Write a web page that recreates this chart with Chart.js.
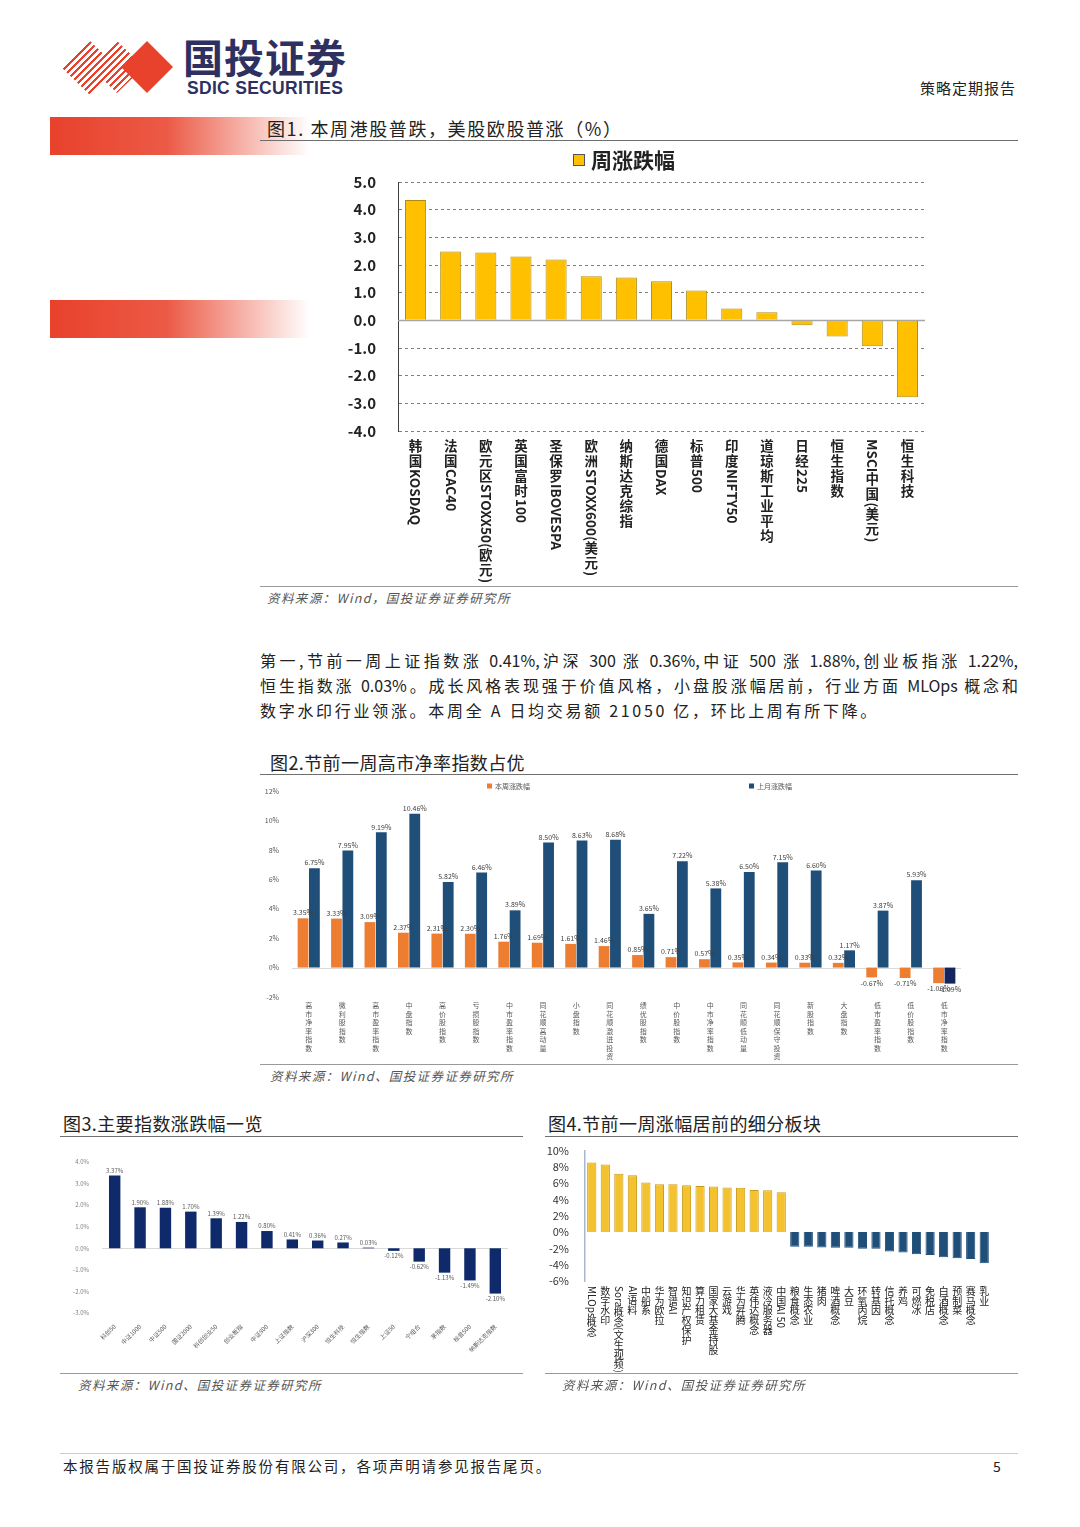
<!DOCTYPE html>
<html>
<head>
<meta charset="utf-8">
<script src="https://cdn.jsdelivr.net/npm/chart.js@4.4.1/dist/chart.umd.min.js"></script>
<style>
  body { margin: 0; width: 1080px; height: 1527px; position: relative; background: #fff; overflow: hidden;
         font-family: "Noto Sans CJK SC", "Noto Sans", sans-serif; color: #222; }
  .abs { position: absolute; }
  .rule { position: absolute; height: 1px; background: #6f6f6f; }
  .fig-title { position: absolute; font-size: 18px; line-height: 22px; letter-spacing: 0.4px; color: #222; white-space: nowrap; }
  .source { position: absolute; font-size: 12.5px; font-style: italic; letter-spacing: 1.4px; color: #555; white-space: nowrap; }
  .para { position: absolute; left: 260px; width: 758px; font-size: 16px; line-height: 25px; color: #222; }
  .para.full { text-align: justify; text-align-last: justify; }
  .redbar { position: absolute; left: 50px; width: 260px; height: 38px;
            background: linear-gradient(to right, #E8412C 0%, #EC5A46 45%, rgba(255,255,255,0) 100%); }
  canvas { position: absolute; }
</style>
</head>
<body>

<!-- header -->
<div class="abs" style="left:62px;top:41px;width:56px;height:54px;clip-path:polygon(0 50%,50% 0,100% 50%,50% 100%);background:repeating-linear-gradient(135deg,#E8412C 0 2px,#fff 2px 5px);"></div>
<div class="abs" style="left:90px;top:41px;width:54px;height:52px;clip-path:polygon(0 50%,50% 0,100% 50%,50% 100%);background:repeating-linear-gradient(135deg,#E8412C 0 2px,#fff 2px 5px);"></div>
<div class="abs" style="left:121px;top:41px;width:52px;height:52px;clip-path:polygon(0 50%,50% 0,100% 50%,50% 100%);background:#E8412C;"></div>
<div class="abs" style="left:183px;top:33px;font-size:40px;line-height:46px;font-weight:bold;color:#2E3160;letter-spacing:1px;">国投证券</div>
<div class="abs" style="left:187px;top:79px;font-family:'Liberation Sans',sans-serif;font-size:17.5px;line-height:19px;font-weight:bold;letter-spacing:0.3px;color:#2E3160;">SDIC SECURITIES</div>
<div class="abs" style="left:920px;top:78px;font-size:15px;line-height:20px;letter-spacing:1px;color:#222;">策略定期报告</div>

<!-- figure 1 -->
<div class="redbar" style="top:117px;"></div>
<div class="redbar" style="top:300px;"></div>
<div class="fig-title" style="left:267px;top:117px;letter-spacing:1.6px;">图1. 本周港股普跌，美股欧股普涨（%）</div>
<div class="rule" style="left:260px;top:140px;width:758px;"></div>
<canvas id="weekChart" width="600" height="445" style="left:340px;top:142px;"></canvas>
<div class="rule" style="left:260px;top:586px;width:758px;background:#999;"></div>
<div class="source" style="left:267px;top:588px;">资料来源：Wind，国投证券证券研究所</div>

<!-- paragraph -->
<div class="para full" style="top:648px;">第一,节前一周上证指数涨 0.41%,沪深 300 涨 0.36%,中证 500 涨 1.88%,创业板指涨 1.22%,</div>
<div class="para full" style="top:673px;">恒生指数涨 0.03%。成长风格表现强于价值风格，小盘股涨幅居前，行业方面 MLOps 概念和</div>
<div class="para" style="top:698px;letter-spacing:2.7px;">数字水印行业领涨。本周全 A 日均交易额 21050 亿，环比上周有所下降。</div>

<!-- figure 2 -->
<div class="fig-title" style="left:270px;top:751px;">图2.节前一周高市净率指数占优</div>
<div class="rule" style="left:260px;top:774px;width:758px;"></div>
<canvas id="styleChart" width="760" height="285" style="left:260px;top:778px;"></canvas>
<div class="rule" style="left:260px;top:1064px;width:758px;background:#999;"></div>
<div class="source" style="left:270px;top:1066px;">资料来源：Wind、国投证券证券研究所</div>

<!-- figure 3 -->
<div class="fig-title" style="left:63px;top:1112px;">图3.主要指数涨跌幅一览</div>
<div class="rule" style="left:60px;top:1136px;width:463px;"></div>
<canvas id="indexChart" width="463" height="232" style="left:60px;top:1140px;"></canvas>
<div class="rule" style="left:60px;top:1373px;width:463px;background:#999;"></div>
<div class="source" style="left:78px;top:1375px;">资料来源：Wind、国投证券证券研究所</div>

<!-- figure 4 -->
<div class="fig-title" style="left:548px;top:1112px;">图4.节前一周涨幅居前的细分板块</div>
<div class="rule" style="left:545px;top:1136px;width:473px;"></div>
<canvas id="sectorChart" width="473" height="252" style="left:545px;top:1136px;"></canvas>
<div class="rule" style="left:545px;top:1373px;width:473px;background:#999;"></div>
<div class="source" style="left:562px;top:1375px;">资料来源：Wind、国投证券证券研究所</div>

<!-- footer -->
<div class="rule" style="left:60px;top:1453px;width:958px;background:#ccc;"></div>
<div class="abs" style="left:63px;top:1456px;font-size:14.5px;line-height:20px;letter-spacing:1.8px;color:#222;">本报告版权属于国投证券股份有限公司，各项声明请参见报告尾页。</div>
<div class="abs" style="left:993px;top:1456px;font-size:14px;line-height:20px;color:#222;">5</div>

<script>
// 图1 本周全球指数
const weekLabels = ["韩国KOSDAQ", "法国CAC40", "欧元区STOXX50(欧元)", "英国富时100", "圣保罗IBOVESPA",
  "欧洲STOXX600(美元)", "纳斯达克综指", "德国DAX", "标普500", "印度NIFTY50", "道琼斯工业平均",
  "日经225", "恒生指数", "MSCI中国(美元)", "恒生科技"];
const weekChange = [4.35, 2.49, 2.45, 2.31, 2.2, 1.59, 1.55, 1.41, 1.08, 0.43, 0.29, -0.18, -0.58, -0.94, -2.78];
const weekTicks = [5, 4, 3, 2, 1, 0, -1, -2, -3, -4];

// 图2 风格指数
const styleLabels = ["高市净率指数", "微利股指数", "高市盈率指数", "中盘指数", "高价股指数", "亏损股指数",
  "中市盈率指数", "同花顺高动量", "小盘指数", "同花顺激进投资", "绩优股指数", "中价股指数", "中市净率指数",
  "同花顺低动量", "同花顺保守投资", "新股指数", "大盘指数", "低市盈率指数", "低价股指数", "低市净率指数"];
const thisWeek = [3.35, 3.33, 3.09, 2.37, 2.31, 2.30, 1.76, 1.69, 1.61, 1.46, 0.85, 0.71, 0.57, 0.35, 0.34,
  0.33, 0.32, -0.67, -0.71, -1.06];
const lastMonth = [6.75, 7.95, 9.19, 10.46, 5.82, 6.46, 3.89, 8.50, 8.63, 8.68, 3.65, 7.22, 5.38, 6.50, 7.15,
  6.60, 1.17, 3.87, 5.93, -1.09];
const styleTicks = [12, 10, 8, 6, 4, 2, 0, -2];

// 图3 主要指数
const indexLabels = ["科创50", "中证1000", "中证500", "国证2000", "科创创业50", "创业板指", "中证800", "上证指数",
  "沪深300", "恒生科技", "恒生指数", "上证50", "宁组合", "茅指数", "标普500", "纳斯达克指数"];
const indexChange = [3.37, 1.90, 1.88, 1.70, 1.39, 1.22, 0.80, 0.41, 0.36, 0.27, 0.03, -0.12, -0.62, -1.13, -1.49, -2.10];
const indexTicks = [4, 3, 2, 1, 0, -1, -2, -3];

// 图4 细分板块
const sectorLabels = ["MLOps概念", "数字水印", "Sora概念(文生视频)", "AI语料", "中船系", "华为欧拉", "智谱AI",
  "知识产权保护", "算力租赁", "国家大基金持股", "云游戏", "华为昇腾", "英伟达概念", "液冷服务器", "中国AI 50",
  "粮食概念", "生态农业", "猪肉", "啤酒概念", "大豆", "环氧丙烷", "转基因", "信托概念", "养鸡", "可燃冰",
  "免税店", "白酒概念", "预制菜", "赛马概念", "乳业"];
const sectorChange = [8.54, 8.28, 7.16, 6.97, 6.09, 5.86, 5.86, 5.75, 5.67, 5.59, 5.48, 5.44, 5.17, 5.13, 4.9,
  -1.8, -1.8, -1.88, -1.92, -1.92, -2.03, -2.03, -2.37, -2.49, -2.72, -2.8, -3.1, -3.22, -3.3, -3.83];
const sectorTicks = [10, 8, 6, 4, 2, 0, -2, -4, -6];

Chart.defaults.font.family = "'Noto Sans CJK SC', 'Noto Sans', sans-serif";
Chart.defaults.animation = false;

const CJK = /[\u3000-\u9fff\uff00-\uffef]/;

// CJK chars stacked upright, latin runs turned 90deg (like vertical Word text)
function drawVertical(ctx, text, x, y, lineHeight) {
  const parts = text.match(/[\u3000-\u9fff\uff00-\uffef]|[^\u3000-\u9fff\uff00-\uffef]+/g) || [];
  parts.forEach((p) => {
    if (CJK.test(p)) {
      ctx.textAlign = "center";
      ctx.textBaseline = "top";
      ctx.fillText(p, x, y);
      y += lineHeight;
    } else {
      const w = ctx.measureText(p).width;
      ctx.save();
      ctx.translate(x, y);
      ctx.rotate(Math.PI / 2);
      ctx.textAlign = "left";
      ctx.textBaseline = "middle";
      ctx.fillText(p, 0, 0);
      ctx.restore();
      y += w;
    }
  });
}

const verticalLabels = {
  id: "verticalLabels",
  afterDraw(chart, args, opts) {
    const { ctx } = chart;
    const xScale = chart.scales.x;
    ctx.save();
    ctx.font = opts.font;
    ctx.fillStyle = opts.color;
    chart.data.labels.forEach((label, i) => {
      drawVertical(ctx, label, xScale.getPixelForValue(i), chart.chartArea.bottom + opts.offset, opts.lineHeight);
    });
    ctx.restore();
  },
};

const pinnedLegend = {
  id: "pinnedLegend",
  afterDraw(chart, args, opts) {
    const { ctx } = chart;
    ctx.save();
    ctx.font = opts.font;
    ctx.textBaseline = "middle";
    ctx.textAlign = "left";
    chart.data.datasets.forEach((ds, i) => {
      const x = opts.x[i];
      const b = opts.box;
      const fill = Array.isArray(ds.backgroundColor) ? ds.backgroundColor[0] : ds.backgroundColor;
      ctx.fillStyle = fill;
      ctx.fillRect(x, opts.y - b / 2, b, b);
      if (opts.boxBorder) {
        ctx.strokeStyle = opts.boxBorder;
        ctx.lineWidth = 1;
        ctx.strokeRect(x + 0.5, opts.y - b / 2 + 0.5, b - 1, b - 1);
      }
      ctx.fillStyle = opts.color;
      ctx.fillText(ds.label, x + b + opts.gap, opts.y);
    });
    ctx.restore();
  },
};

const zeroLine = {
  id: "zeroLine",
  beforeDatasetsDraw(chart, args, opts) {
    const { ctx, chartArea } = chart;
    const y = Math.round(chart.scales.y.getPixelForValue(0)) + 0.5;
    ctx.save();
    ctx.strokeStyle = opts.color;
    ctx.lineWidth = opts.width;
    ctx.beginPath();
    ctx.moveTo(chartArea.left, y);
    ctx.lineTo(chartArea.right, y);
    ctx.stroke();
    ctx.restore();
  },
};

const barValues = {
  id: "barValues",
  afterDatasetsDraw(chart, args, opts) {
    const { ctx } = chart;
    ctx.save();
    ctx.font = opts.font;
    ctx.fillStyle = opts.color;
    ctx.textAlign = "center";
    chart.data.datasets.forEach((ds, di) => {
      chart.getDatasetMeta(di).data.forEach((bar, i) => {
        const v = ds.data[i];
        if (v < 0) {
          ctx.textBaseline = "top";
          ctx.fillText(v.toFixed(2) + "%", bar.x, bar.y + 2);
        } else {
          ctx.textBaseline = "bottom";
          ctx.fillText(v.toFixed(2) + "%", bar.x, bar.y - 2);
        }
      });
    });
    ctx.restore();
  },
};

function fixedTicks(list) {
  return (scale) => {
    scale.ticks = list.map((v) => ({ value: v }));
  };
}

// 图1
new Chart(document.getElementById("weekChart"), {
  type: "bar",
  data: {
    labels: weekLabels,
    datasets: [{
      label: "周涨跌幅",
      data: weekChange,
      backgroundColor: "#FFC000",
      borderColor: "#B08A12",
      borderWidth: 1,
      barPercentage: 0.6,
      categoryPercentage: 1,
    }],
  },
  options: {
    responsive: false,
    layout: { padding: { top: 40, right: 15, bottom: 156, left: 0 } },
    plugins: {
      legend: { display: false },
      tooltip: { enabled: false },
      pinnedLegend: { x: [233], y: 18, box: 12, gap: 6, font: "bold 21px 'Noto Sans CJK SC'", color: "#222", boxBorder: "#555" },
      zeroLine: { color: "#A6A6A6", width: 1.5 },
      verticalLabels: { font: "bold 13.5px 'Noto Sans CJK SC'", color: "#222", offset: 8, lineHeight: 15 },
    },
    scales: {
      x: { display: false },
      y: {
        min: -4,
        max: 5,
        afterBuildTicks: fixedTicks(weekTicks),
        afterFit: (s) => { s.width = 58; },
        ticks: { padding: 22, color: "#222", font: { size: 15, weight: "bold" }, callback: (v) => v.toFixed(1) },
        grid: { drawTicks: false, color: (c) => (c.tick && c.tick.value === 0 ? "rgba(0,0,0,0)" : "#7F7F7F") },
        border: { display: true, color: "#404040", width: 1, dash: [3, 3] },
      },
    },
  },
  plugins: [pinnedLegend, zeroLine, verticalLabels],
});

// 图2
new Chart(document.getElementById("styleChart"), {
  type: "bar",
  data: {
    labels: styleLabels,
    datasets: [
      { label: "本周涨跌幅", data: thisWeek, backgroundColor: "#ED7D31", barPercentage: 0.95, categoryPercentage: 0.68 },
      {
        label: "上月涨跌幅",
        data: lastMonth,
        backgroundColor: lastMonth.map((v, i) => (i === lastMonth.length - 1 ? "#14245E" : "#1F4E79")),
        barPercentage: 0.95,
        categoryPercentage: 0.68,
      },
    ],
  },
  options: {
    responsive: false,
    layout: { padding: { top: 13, right: 59, bottom: 66, left: 0 } },
    plugins: {
      legend: { display: false },
      tooltip: { enabled: false },
      pinnedLegend: { x: [227, 489], y: 8, box: 5, gap: 3, font: "7px 'Noto Sans CJK SC'", color: "#595959" },
      zeroLine: { color: "#D9D9D9", width: 1 },
      barValues: { font: "7px 'Noto Sans CJK SC'", color: "#404040" },
      verticalLabels: { font: "7px 'Noto Sans CJK SC'", color: "#595959", offset: 5, lineHeight: 8.5 },
    },
    scales: {
      x: { display: false },
      y: {
        min: -2,
        max: 12,
        afterBuildTicks: fixedTicks(styleTicks),
        afterFit: (s) => { s.width = 32; },
        ticks: { padding: 5, color: "#595959", font: { size: 7 }, callback: (v) => v + "%" },
        grid: { display: false },
        border: { display: false },
      },
    },
  },
  plugins: [pinnedLegend, zeroLine, barValues, verticalLabels],
});

// 图3
new Chart(document.getElementById("indexChart"), {
  type: "bar",
  data: {
    labels: indexLabels,
    datasets: [{
      label: "涨跌幅",
      data: indexChange,
      backgroundColor: "#0F2A6B",
      barPercentage: 0.45,
      categoryPercentage: 1,
    }],
  },
  options: {
    responsive: false,
    layout: { padding: { top: 22, right: 15, bottom: 0, left: 0 } },
    plugins: {
      legend: { display: false },
      tooltip: { enabled: false },
      zeroLine: { color: "#D9D9D9", width: 1 },
      barValues: { font: "6px 'Noto Sans CJK SC'", color: "#595959" },
    },
    scales: {
      x: {
        afterFit: (s) => { s.height = 59; },
        ticks: { autoSkip: false, maxRotation: 45, minRotation: 45, padding: 2, color: "#595959", font: { size: 6 } },
        grid: { display: false },
        border: { display: false },
      },
      y: {
        min: -3,
        max: 4,
        afterBuildTicks: fixedTicks(indexTicks),
        afterFit: (s) => { s.width = 42; },
        ticks: { padding: 5, color: "#7F7F7F", font: { size: 6 }, callback: (v) => v.toFixed(1) + "%" },
        grid: { display: false },
        border: { display: false },
      },
    },
  },
  plugins: [zeroLine, barValues],
});

// 图4
new Chart(document.getElementById("sectorChart"), {
  type: "bar",
  data: {
    labels: sectorLabels,
    datasets: [{
      label: "涨跌幅",
      data: sectorChange,
      backgroundColor: sectorChange.map((v) => (v >= 0 ? "#F4C22E" : "#1F4E79")),
      borderColor: sectorChange.map((v) => (v >= 0 ? "#C99A1A" : "#1F4E79")),
      borderWidth: 1,
      barPercentage: 0.68,
      categoryPercentage: 1,
    }],
  },
  options: {
    responsive: false,
    layout: { padding: { top: 6, right: 27, bottom: 107, left: 0 } },
    plugins: {
      legend: { display: false },
      tooltip: { enabled: false },
      verticalLabels: { font: "10px 'Noto Sans CJK SC'", color: "#222", offset: 5, lineHeight: 9.8 },
    },
    scales: {
      x: { display: false },
      y: {
        min: -6,
        max: 10,
        afterBuildTicks: fixedTicks(sectorTicks),
        afterFit: (s) => { s.width = 40; },
        ticks: { padding: 8, color: "#333", font: { size: 11 }, callback: (v) => v + "%" },
        grid: { display: false },
        border: { display: true, color: "#A9B8CC", width: 1.5 },
      },
    },
  },
  plugins: [verticalLabels],
});
</script>
</body>
</html>
